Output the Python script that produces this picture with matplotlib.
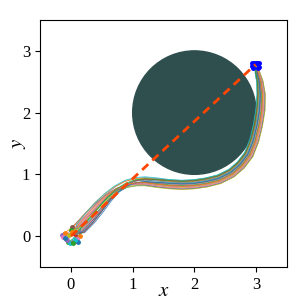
import numpy as np
import matplotlib
matplotlib.use("Agg")
import matplotlib.pyplot as plt
from matplotlib.patches import Circle

plt.rcParams['font.family'] = ['Liberation Serif', 'DejaVu Serif']
plt.rcParams['mathtext.fontset'] = 'stix'

# obstacle
obs_center = (2.0, 2.0)
obs_radius = 1.0

# start / goal
start = (0.0, 0.0)
goal = (2.99, 2.78)

# mean path
path_x = [0.0, 0.15, 0.3, 0.45, 0.6, 0.75, 0.9, 1.05, 1.2, 1.4, 1.6, 1.8, 2.0,
          2.2, 2.4, 2.6, 2.75, 2.88, 2.97, 3.03, 3.07, 3.08, 3.06, 3.02, 2.99]
path_y = [0.0, 0.13, 0.29, 0.46, 0.62, 0.75, 0.83, 0.87, 0.88, 0.86, 0.84, 0.83, 0.84,
          0.87, 0.92, 1.02, 1.15, 1.32, 1.55, 1.8, 2.05, 2.3, 2.5, 2.65, 2.78]
# weight of the first and second lateral offsets along the path
taper_a = [1.0, 1.3, 1.4, 1.3, 1.0, 0.7, 0.5, 0.3, 0.2, 0.1, 0.0, 0.0, 0.0,
           0.0, 0.0, 0.0, 0.0, 0.0, 0.0, 0.0, 0.0, 0.0, 0.0, 0.0, 0.0]
taper_b = [0.0, 0.0, 0.1, 0.2, 0.3, 0.4, 0.6, 0.8, 0.9, 1.0, 1.0, 1.0, 1.0,
           1.0, 1.0, 1.0, 1.0, 1.0, 1.0, 1.0, 1.0, 0.9, 0.7, 0.5, 0.1]

# lateral offsets of each sampled trajectory
spread_a = [-0.08, 0.06, -0.065, 0.02, -0.05, 0.08, -0.035, 0.045, -0.02, 0.0,
            -0.01, 0.07, 0.005, -0.07, 0.03, -0.045, 0.055, -0.03, 0.01, 0.065, -0.06, 0.04, -0.005]
spread_b = [0.02, -0.05, 0.07, -0.02, 0.05, -0.07, 0.0, 0.065, -0.04, 0.03,
            -0.065, 0.045, -0.01, 0.06, -0.03, 0.01, -0.055, 0.035, -0.075, 0.075, 0.015, -0.025, 0.055]
# start point scatter of each trajectory
start_dx = [-0.12, 0.15, -0.05, 0.08, -0.15, 0.02, 0.1, -0.08, 0.05, -0.02, 0.12,
            -0.1, 0.0, 0.07, -0.06, 0.03, -0.13, 0.09, -0.03, 0.06, -0.09, 0.01, 0.04]
start_dy = [0.03, 0.0, -0.1, -0.08, 0.02, 0.15, -0.05, -0.04, 0.08, -0.12, -0.09,
            0.05, 0.1, 0.04, -0.07, -0.1, -0.02, 0.06, 0.01, -0.06, -0.03, 0.07, -0.11]
# goal point scatter
goal_dx = [-0.05, -0.03, 0.0, 0.03, 0.05, 0.06, -0.06, 0.04, -0.04]
goal_dy = [0.02, 0.03, 0.03, 0.03, 0.02, -0.04, -0.02, -0.05, -0.05]

px = np.array(path_x)
py = np.array(path_y)
tx = np.gradient(px)
ty = np.gradient(py)
norm = np.hypot(tx, ty)
nx, ny = -ty / norm, tx / norm
wa = np.array(taper_a)
wb = np.array(taper_b)

fig = plt.figure(figsize=(2.99, 3.03), dpi=100)
ax = fig.add_axes([0.134, 0.119, 0.826, 0.815])

ax.add_patch(Circle(obs_center, obs_radius, color='darkslategray', zorder=1))

colors = plt.rcParams['axes.prop_cycle'].by_key()['color']
for i in range(len(spread_a)):
    off = spread_a[i] * wa + spread_b[i] * wb
    xs = px + off * nx
    ys = py + off * ny
    xs[0] = start[0] + start_dx[i]
    ys[0] = start[1] + start_dy[i]
    c = colors[i % len(colors)]
    ax.plot(xs, ys, color=c, lw=0.6, alpha=0.85, zorder=2)
    ax.plot(xs[0], ys[0], 'o', color=c, ms=2.5, zorder=3)

ax.plot([start[0], goal[0]], [start[1], goal[1]], '--', color='orangered', lw=2,
        dashes=(3, 2), zorder=4)
ax.plot(goal[0] + np.array(goal_dx), goal[1] + np.array(goal_dy), 'o', color='blue',
        ms=2.5, zorder=3)

ax.set_xlim(-0.5, 3.5)
ax.set_ylim(-0.5, 3.5)
ax.set_xticks([0, 1, 2, 3])
ax.set_yticks([0, 1, 2, 3])
ax.tick_params(labelsize=12)
ax.set_xlabel('$x$', fontsize=15)
ax.set_ylabel('$y$', fontsize=15)
ax.xaxis.set_label_coords(0.5, -0.06)
ax.yaxis.set_label_coords(-0.05, 0.5)

fig.savefig('out.png', dpi=100)
